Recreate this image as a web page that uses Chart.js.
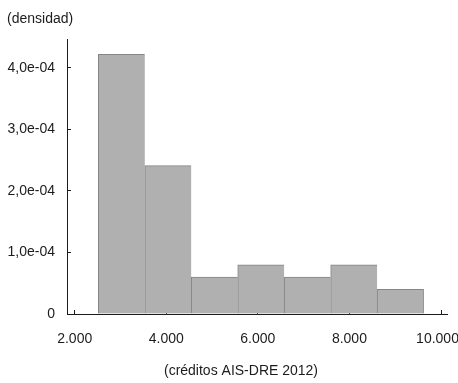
<!DOCTYPE html>
<html>
<head>
<meta charset="utf-8">
<script src="https://cdn.jsdelivr.net/npm/chart.js@4/dist/chart.umd.min.js"></script>
<style>
  html, body { margin: 0; padding: 0; background: #ffffff; }
  #wrap { width: 458px; height: 383px; }
</style>
</head>
<body>
<div id="wrap"><canvas id="hist"></canvas></div>
<script>
// Histogram bin breaks (créditos) and density per bin
const binBreaks = [2516, 3531, 4546, 5560, 6575, 7590, 8605, 9620];
const densities = [4.22e-4, 2.41e-4, 0.60e-4, 0.80e-4, 0.60e-4, 0.80e-4, 0.40e-4];
const xTicks = [2000, 4000, 6000, 8000, 10000];
const yTicks = [0, 1e-4, 2e-4, 3e-4, 4e-4];
const yLabel = '(densidad)';
const xLabel = '(créditos AIS-DRE 2012)';

const FONT = "'Liberation Sans', Arial, sans-serif";
const FSIZE = 14;
const INK = '#1c1c1c';

// one bar per bin, centred between its two breaks
const bars = densities.map((d, i) => ({ x: (binBreaks[i] + binBreaks[i + 1]) / 2, y: d }));

const fmtX = v => String(v).replace(/\B(?=(\d{3})+(?!\d))/g, '.');
const fmtY = v => {
  if (Math.abs(v) < 1e-12) return '0';
  return v.toExponential(1).replace('.', ',').replace(/e([+-])(\d)$/, 'e$10$2');
};
const keepTicks = list => scale => {
  scale.ticks = list.map(v => ({ value: v }));
};

// caption under the x axis
const xCaption = {
  id: 'xCaption',
  afterDraw(chart) {
    const { ctx, chartArea } = chart;
    ctx.save();
    ctx.font = FSIZE + 'px ' + FONT;
    ctx.fillStyle = INK;
    ctx.textAlign = 'center';
    ctx.textBaseline = 'middle';
    ctx.fillText(xLabel, chartArea.left + 174, chartArea.bottom + 57);
    ctx.restore();
  }
};

new Chart(document.getElementById('hist'), {
  type: 'bar',
  data: {
    datasets: [{
      data: bars,
      backgroundColor: '#b0b0b0',
      borderColor: '#858585',
      borderWidth: ctx => ({ top: 1, left: 1, right: ctx.dataIndex === densities.length - 1 ? 1 : 0, bottom: 0 }),
      borderSkipped: false,
      barPercentage: 1,
      categoryPercentage: 1
    }]
  },
  options: {
    responsive: true,
    maintainAspectRatio: false,
    animation: false,
    layout: { padding: { left: 7, right: 11, top: 0, bottom: 36 } },
    plugins: {
      legend: { display: false },
      tooltip: { enabled: false },
      title: {
        display: true,
        text: yLabel,
        align: 'start',
        color: INK,
        font: { family: FONT, size: FSIZE, weight: 'normal', lineHeight: 1.2 },
        padding: { top: 11, bottom: 12 }
      }
    },
    scales: {
      x: {
        type: 'linear',
        offset: false,
        min: 1832,
        max: 10131,
        afterBuildTicks: keepTicks(xTicks),
        afterFit: s => { s.height = 33; s.paddingLeft = 0; s.paddingRight = 0; },
        grid: { offset: false, drawOnChartArea: false, tickLength: -4, color: INK, lineWidth: 1 },
        border: { display: true, color: INK, width: 1 },
        ticks: {
          color: INK,
          padding: 21,
          autoSkip: false,
          maxRotation: 0,
          font: { family: FONT, size: FSIZE },
          // the last label gets a trailing en space so it stays inside the canvas
          callback: (v, i, all) => fmtX(v) + (i === all.length - 1 ? '\u2002' : '')
        }
      },
      y: {
        type: 'linear',
        min: 0,
        max: 4.455e-4,
        afterBuildTicks: keepTicks(yTicks),
        afterFit: s => { s.width = 60; s.paddingTop = 0; s.paddingBottom = 0; },
        grid: { drawOnChartArea: false, tickLength: -4, color: INK, lineWidth: 1 },
        border: { display: true, color: INK, width: 1 },
        ticks: {
          color: INK,
          padding: 16,
          autoSkip: false,
          font: { family: FONT, size: FSIZE },
          callback: v => fmtY(v)
        }
      }
    }
  },
  plugins: [xCaption]
});
</script>
</body>
</html>
